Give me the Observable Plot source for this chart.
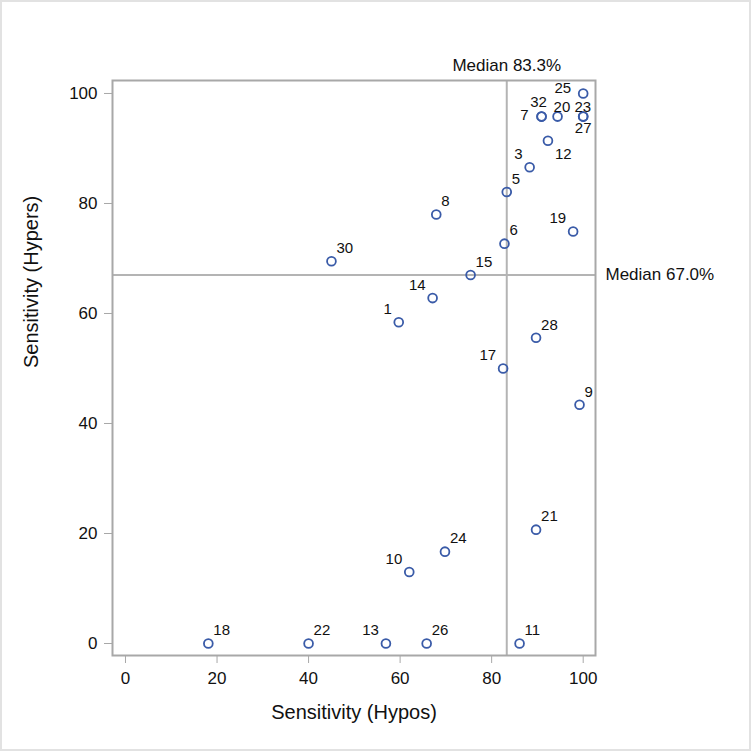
<!DOCTYPE html>
<html>
<head>
<meta charset="utf-8">
<script src="https://cdn.jsdelivr.net/npm/d3@7"></script>
<script src="https://cdn.jsdelivr.net/npm/@observablehq/plot@0.6"></script>
<style>
  html, body { margin: 0; padding: 0; background: #fff; }
  #chart svg { display: block; outline: 2px solid #e2e2e2; outline-offset: -2px; }
</style>
</head>
<body>
<div id="chart"></div>
<script>
// Study ids and sensitivities (%)
const ids    = [1, 3, 5, 6, 7, 8, 9, 10, 11, 12, 13, 14, 15, 17, 18, 19, 20, 21, 22, 23, 24, 25, 26, 27, 28, 30, 32];
const hypos  = [59.7, 88.3, 83.3, 82.8, 90.9, 67.9, 99.2, 62.0, 86.1, 92.3, 56.9, 67.1, 75.4, 82.5, 18.1, 97.8, 94.4, 89.7, 40.0, 100, 69.8, 100, 65.8, 100, 89.7, 45.0, 90.9];
const hypers = [58.4, 86.6, 82.1, 72.7, 95.8, 78.0, 43.4, 13.0, 0, 91.4, 0, 62.8, 67.0, 50.0, 0, 74.9, 95.8, 20.7, 0, 95.8, 16.7, 100, 0, 95.8, 55.6, 69.5, 95.8];
const medianHypos = 83.3;
const medianHypers = 67.0;
const xTicks = [0, 20, 40, 60, 80, 100];
const yTicks = [0, 20, 40, 60, 80, 100];
const xTitle = "Sensitivity (Hypos)";
const yTitle = "Sensitivity (Hypers)";

// label placement (which side of the marker each id label sits)
const labelSide = {
  1: "ul", 3: "ul", 5: "ur", 6: "ur", 7: "l", 8: "ur", 9: "ur", 10: "ul", 11: "ur", 12: "dr",
  13: "ul", 14: "ul", 15: "ur", 17: "ul", 18: "ur", 19: "ul", 20: "tr", 21: "ur", 22: "ur",
  23: "tl", 24: "ur", 25: "lu", 26: "ur", 27: "b", 28: "ur", 30: "ur", 32: "t"
};
const placements = {
  ur: {textAnchor: "start", dx: 5, dy: -13},
  ul: {textAnchor: "end", dx: -7, dy: -13},
  dr: {textAnchor: "start", dx: 7, dy: 13},
  l:  {textAnchor: "end", dx: -13, dy: -1},
  lu: {textAnchor: "end", dx: -12, dy: -5},
  t:  {textAnchor: "middle", dx: -3, dy: -14},
  tr: {textAnchor: "start", dx: -4, dy: -9},
  tl: {textAnchor: "end", dx: 8, dy: -9},
  b:  {textAnchor: "middle", dx: 0, dy: 12}
};

const data = ids.map((id, i) => ({id, hypos: hypos[i], hypers: hypers[i], side: labelSide[id]}));

const font = "'Liberation Sans', Arial, Helvetica, sans-serif";
const gray = "#a8a8a8";

const labelMarks = Object.entries(placements).map(([key, p]) =>
  Plot.text(data.filter(d => d.side === key), {
    x: "hypos", y: "hypers", text: d => String(d.id),
    textAnchor: p.textAnchor, dx: p.dx, dy: p.dy,
    fontSize: 15, fill: "#111"
  })
);

const chart = Plot.plot({
  width: 751,
  height: 751,
  marginLeft: 112,
  marginRight: 156,
  marginTop: 80,
  marginBottom: 96,
  style: {fontFamily: font, background: "#fff", color: "#111"},
  x: {domain: [-2.84, 102.69], axis: null},
  y: {domain: [-2.18, 102.36], axis: null},
  marks: [
    Plot.ruleX([medianHypos], {stroke: "#b4b4b4", strokeWidth: 2}),
    Plot.ruleY([medianHypers], {stroke: "#b4b4b4", strokeWidth: 2}),
    Plot.frame({stroke: gray, strokeWidth: 2}),
    Plot.axisX({ticks: xTicks, tickSize: 8, tickPadding: 8, fontSize: 17, stroke: gray, label: null}),
    Plot.axisY({ticks: yTicks, tickSize: 8, tickPadding: 7, fontSize: 17, stroke: gray, label: null}),
    Plot.text([xTitle], {frameAnchor: "bottom", dy: 63, fontSize: 20, fill: "#111"}),
    Plot.text([yTitle], {frameAnchor: "left", rotate: -90, dx: -81, fontSize: 20, fill: "#111"}),
    Plot.text([medianHypos], {x: d => d, frameAnchor: "top", dy: -22, text: d => `Median ${d.toFixed(1)}%`, fontSize: 17, fill: "#111"}),
    Plot.text([medianHypers], {y: d => d, frameAnchor: "right", dx: 10, textAnchor: "start", text: d => `Median ${d.toFixed(1)}%`, fontSize: 17, fill: "#111"}),
    Plot.dot(data, {x: "hypos", y: "hypers", r: 4.4, stroke: "#3a5ba8", strokeWidth: 1.8, fill: "none"}),
    ...labelMarks
  ]
});
document.getElementById("chart").append(chart);
</script>
</body>
</html>
